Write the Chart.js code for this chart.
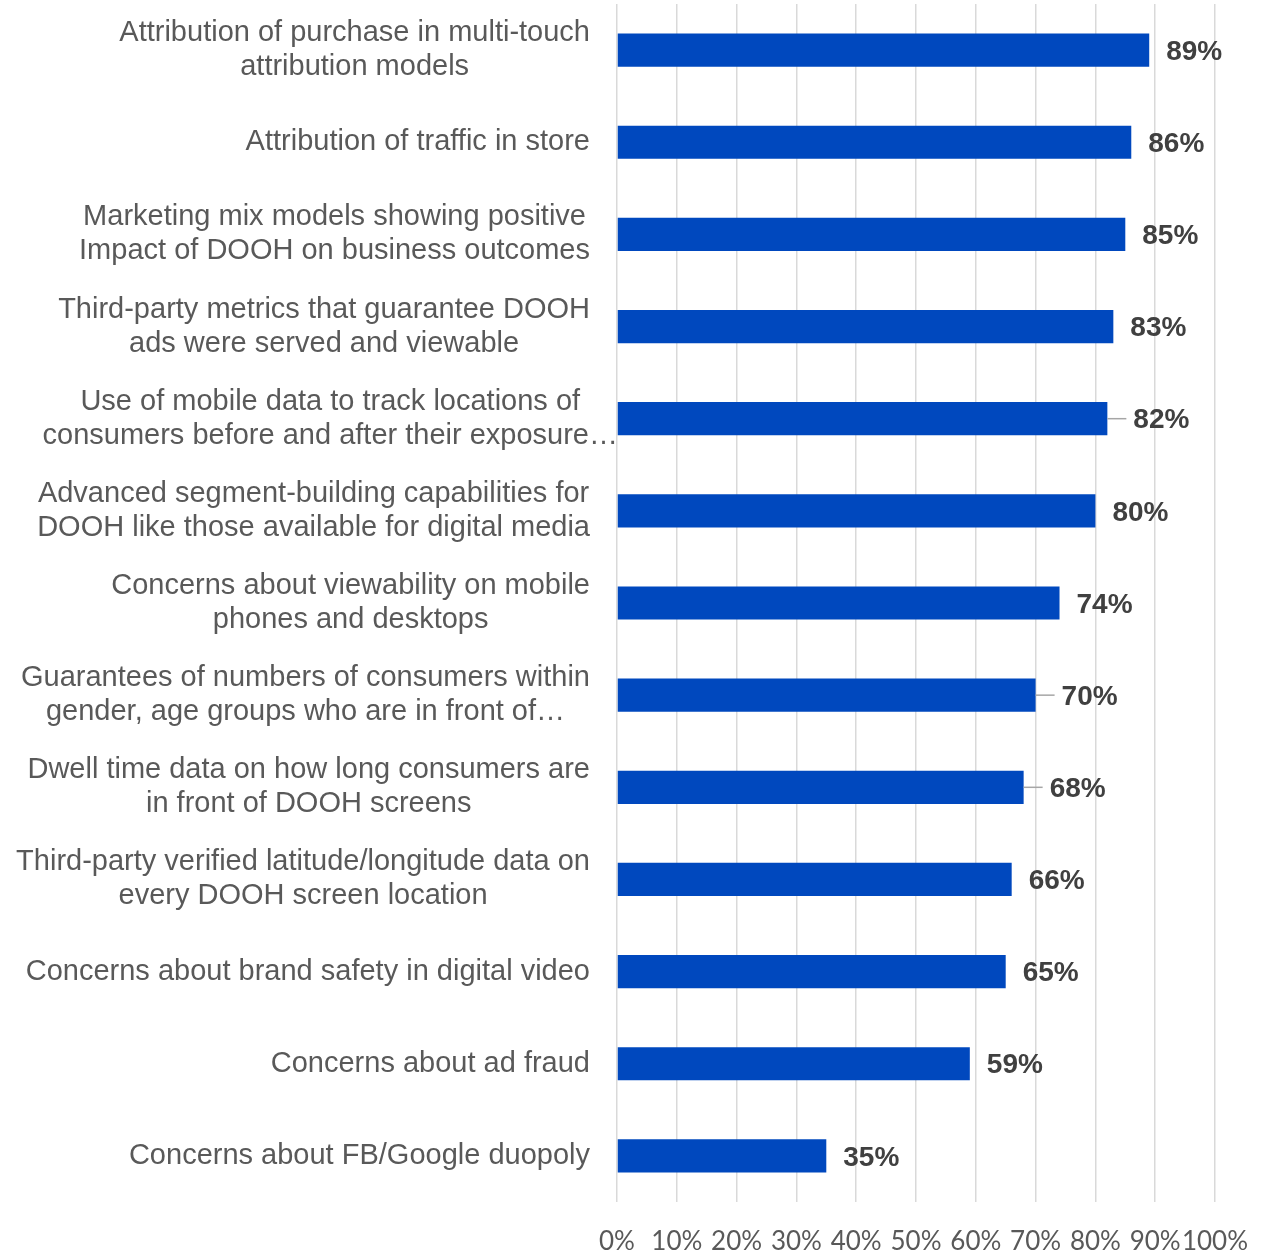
<!DOCTYPE html>
<html>
<head>
<meta charset="utf-8">
<script src="https://cdn.jsdelivr.net/npm/chart.js@4.4.1/dist/chart.umd.min.js"></script>
<style>
  html, body { margin: 0; padding: 0; background: #fff; }
  #wrap { width: 1264px; height: 1253px; position: relative; }
</style>
</head>
<body>
<div id="wrap"><canvas id="chartDooh"></canvas></div>
<script>
// categories (multi-line labels, top to bottom)
const categories = [
  ["Attribution of purchase in multi-touch", "attribution models"],
  ["Attribution of traffic in store"],
  ["Marketing mix models showing positive", "Impact of DOOH on business outcomes"],
  ["Third-party metrics that guarantee DOOH", "ads were served and viewable"],
  ["Use of mobile data to track locations of", "consumers before and after their exposure…"],
  ["Advanced segment-building capabilities for", "DOOH like those available for digital media"],
  ["Concerns about viewability on mobile", "phones and desktops"],
  ["Guarantees of numbers of consumers within", "gender, age groups who are in front of…"],
  ["Dwell time data on how long consumers are", "in front of DOOH screens"],
  ["Third-party verified latitude/longitude data on", "every DOOH screen location"],
  ["Concerns about brand safety in digital video"],
  ["Concerns about ad fraud"],
  ["Concerns about FB/Google duopoly"]
]
const values = [89, 86, 85, 83, 82, 80, 74, 70, 68, 66, 65, 59, 35]
const xTicks = [0, 10, 20, 30, 40, 50, 60, 70, 80, 90, 100]
// bars whose data label sits off a small leader line
const leaderLines = [4, 7, 8]

const labelFont = "29px 'Liberation Sans', Arial, sans-serif"
const valueFont = "bold 28px 'Liberation Sans', Arial, sans-serif"

// y labels : each block right aligned, lines centered inside the block
const yLabelsPlugin = {
  id: 'yLabels',
  afterDraw(chart) {
    const ctx = chart.ctx
    const yScale = chart.scales.y
    const right = chart.chartArea.left - 27
    ctx.save()
    ctx.font = labelFont
    ctx.fillStyle = '#595959'
    ctx.textAlign = 'center'
    ctx.textBaseline = 'middle'
    categories.forEach((lines, i) => {
      const y = yScale.getPixelForTick(i)
      let widest = 0
      for (const l of lines) widest = Math.max(widest, ctx.measureText(l).width)
      let cx = right - widest / 2
      // the ellipsis line spills over the axis a little in the original
      if (lines[lines.length - 1].endsWith('exposure…')) cx += 28
      const lh = 34
      lines.forEach((l, j) => {
        ctx.fillText(l, cx, y + (j - (lines.length - 1) / 2) * lh)
      })
    })
    ctx.restore()
  }
}

// value labels at bar ends
const valueLabelsPlugin = {
  id: 'valueLabels',
  afterDatasetsDraw(chart) {
    const ctx = chart.ctx
    const meta = chart.getDatasetMeta(0)
    ctx.save()
    ctx.font = valueFont
    ctx.fillStyle = '#404040'
    ctx.textBaseline = 'middle'
    meta.data.forEach((bar, i) => {
      let off = 17
      if (leaderLines.includes(i)) {
        off = 26
        ctx.strokeStyle = '#a6a6a6'
        ctx.lineWidth = 1.5
        ctx.beginPath()
        ctx.moveTo(bar.x, bar.y)
        ctx.lineTo(bar.x + 19, bar.y)
        ctx.stroke()
      }
      ctx.fillText(values[i] + '%', bar.x + off, bar.y + 2)
    })
    ctx.restore()
  }
}

const chartCfg = {
  type: 'bar',
  data: {
    labels: categories,
    datasets: [{
      data: values,
      backgroundColor: '#0048BE',
      borderWidth: 0,
      barPercentage: 0.36,
      categoryPercentage: 1
    }]
  },
  options: {
    indexAxis: 'y',
    responsive: false,
    animation: false,
    layout: { padding: { top: 4, right: 49, bottom: 0, left: 0 } },
    plugins: {
      legend: { display: false },
      tooltip: { enabled: false },
      title: { display: false }
    },
    scales: {
      x: {
        min: 0,
        max: 100,
        afterBuildTicks: (scale) => { scale.ticks = xTicks.map(v => ({ value: v })) },
        afterFit: (scale) => {
          scale.height = 51
          scale.paddingLeft = 0
          scale.paddingRight = 0
        },
        grid: { color: '#d9d9d9', lineWidth: 1.5, drawTicks: false },
        border: { display: false },
        ticks: {
          font: { family: 'Lato', size: 26 },
          color: '#595959',
          padding: 24,
          maxRotation: 0,
          autoSkip: false,
          callback: (v) => v + '%'
        }
      },
      y: {
        grid: { display: false },
        border: { display: false },
        ticks: { display: false },
        afterFit: (scale) => { scale.width = 617 }
      }
    }
  },
  plugins: [yLabelsPlugin, valueLabelsPlugin]
}

const canvas = document.getElementById('chartDooh')
canvas.width = 1264
canvas.height = 1253
new Chart(canvas, chartCfg)
</script>
</body>
</html>
